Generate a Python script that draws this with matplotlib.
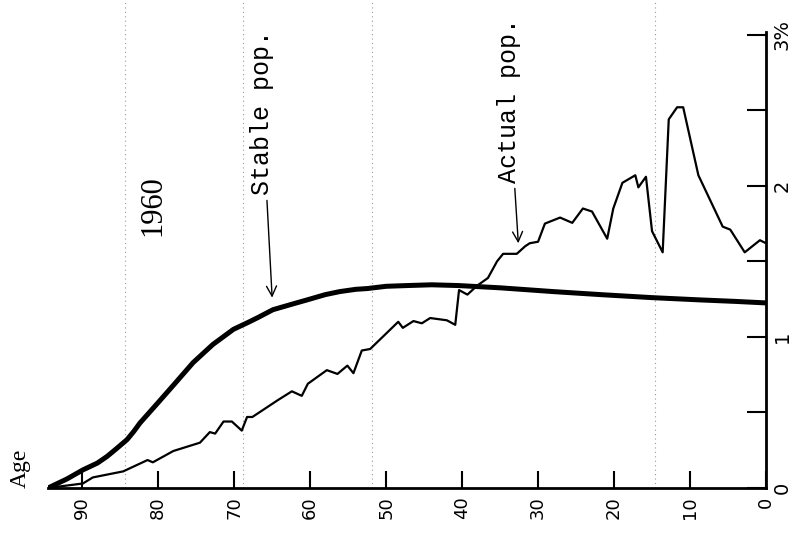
import matplotlib.pyplot as plt
from matplotlib.ticker import FixedLocator

# ages (years) and share of population (%)
stable_age = [94.5, 92.0, 89.9, 88.0, 86.7, 85.5, 84.1, 83.2, 82.4, 80.1, 78.0, 75.4,
              72.8, 70.1, 68.0, 66.8, 64.9, 62.5, 60.4, 58.0, 56.1, 54.0, 52.5, 50.0,
              47.2, 44.0, 40.5, 35.0, 28.0, 21.8, 15.0, 8.7, 4.0, 0.0]
stable_pct = [0, 0.06, 0.12, 0.165, 0.21, 0.26, 0.32, 0.375, 0.43, 0.56, 0.68, 0.83,
              0.95, 1.05, 1.10, 1.13, 1.18, 1.215, 1.245, 1.28, 1.30, 1.315, 1.32, 1.335,
              1.34, 1.345, 1.34, 1.325, 1.30, 1.28, 1.26, 1.245, 1.235, 1.225]

actual_age = [94.5, 89.9, 88.6, 84.6, 81.4, 80.7, 78.0, 74.5, 73.2, 72.5, 71.4, 70.3,
              69.0, 68.3, 67.6, 64.3, 62.4, 61.1, 60.3, 57.8, 56.4, 55.1, 54.3, 53.2,
              52.1, 48.4, 47.8, 46.4, 45.3, 44.2, 42.0, 40.9, 40.4, 39.3, 38.0, 36.6,
              35.4, 34.6, 32.8, 31.7, 31.1, 30.0, 29.1, 27.1, 25.5, 24.1, 22.9, 20.9,
              20.1, 18.9, 17.2, 16.8, 15.8, 15.0, 13.6, 12.8, 11.7, 10.9, 8.9, 5.7,
              4.7, 2.8, 0.8, 0.0]
actual_pct = [0, 0.03, 0.07, 0.11, 0.185, 0.17, 0.245, 0.30, 0.37, 0.36, 0.44, 0.44,
              0.38, 0.47, 0.47, 0.58, 0.64, 0.61, 0.69, 0.78, 0.755, 0.81, 0.76, 0.91,
              0.92, 1.10, 1.06, 1.105, 1.09, 1.125, 1.11, 1.08, 1.31, 1.28, 1.34, 1.39,
              1.50, 1.55, 1.55, 1.60, 1.62, 1.63, 1.75, 1.79, 1.755, 1.85, 1.83, 1.65,
              1.85, 2.02, 2.07, 1.99, 2.06, 1.70, 1.56, 2.44, 2.52, 2.52, 2.07, 1.73,
              1.71, 1.56, 1.64, 1.62]

age_ticks = [90, 80, 70, 60, 50, 40, 30, 20, 10, 0]
age_labels = ['90', '80', '70', '60', '50', '40', '30', '20', '10', '0']
pct_ticks = [0, 1, 2, 3]
pct_labels = ['0', '1', '2', '3%']
pct_minor = [0.5, 1.5, 2.5]
paper_lines = [84.3, 68.8, 51.8, 14.6]   # faint dotted lines on the graph paper

fig = plt.figure(figsize=(8.02, 5.35), dpi=100)
ax = fig.add_axes([48/802, 47/535, 718/802, 488/535])

for a in paper_lines:
    ax.axvline(a, color='#9a9a9a', lw=0.8, ls=(0, (1, 3)), zorder=0)

ax.plot(stable_age, stable_pct, color='black', lw=3.6,
        solid_capstyle='round', solid_joinstyle='round')
ax.plot(actual_age, actual_pct, color='black', lw=1.6)

ax.set_xlim(94.5, 0)
ax.set_ylim(0, 3.23)

ax.spines['left'].set_visible(False)
ax.spines['top'].set_visible(False)
ax.spines['bottom'].set_linewidth(2)
ax.spines['right'].set_linewidth(2)
ax.spines['right'].set_bounds(0, 3.02)

ax.set_xticks(age_ticks)
ax.set_xticklabels(age_labels, rotation=90, fontsize=13)
ax.yaxis.tick_right()
ax.set_yticks(pct_ticks)
ax.set_yticklabels(pct_labels, rotation=90, fontsize=14, va='center')
ax.yaxis.set_minor_locator(FixedLocator(pct_minor))
ax.tick_params(axis='x', direction='in', length=12, width=1.5, pad=6)
ax.tick_params(axis='y', which='both', direction='in', length=14, width=1.5, pad=5,
               left=False, right=True)

ax.text(98.2, 0.13, 'Age', rotation=90, ha='center', va='center',
        family='Liberation Serif', fontsize=17, clip_on=False)
ax.text(80.7, 1.87, '1960', rotation=90, ha='center', va='center',
        family='Liberation Serif', fontsize=22)

ax.annotate('Stable pop.', xy=(65.0, 1.26), xytext=(66.3, 1.94),
            rotation=90, ha='center', va='bottom', family='Liberation Mono', fontsize=18,
            arrowprops=dict(arrowstyle='->', color='black', lw=1.0,
                            shrinkA=2, shrinkB=0, mutation_scale=18))
ax.annotate('Actual pop.', xy=(32.6, 1.62), xytext=(33.8, 2.02),
            rotation=90, ha='center', va='bottom', family='Liberation Mono', fontsize=18,
            arrowprops=dict(arrowstyle='->', color='black', lw=1.0,
                            shrinkA=2, shrinkB=0, mutation_scale=18))

fig.savefig('out.png', dpi=100)
